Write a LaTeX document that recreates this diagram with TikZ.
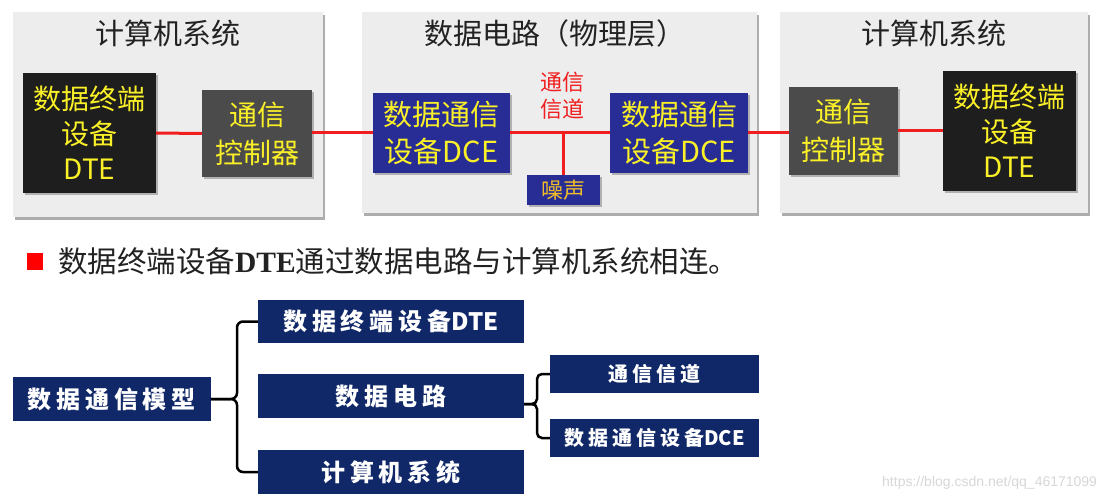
\documentclass[tikz,border=0pt]{standalone}
\usepackage{fontspec}
\usetikzlibrary{shadows,calc}
\setmainfont{Liberation Serif}
\newfontfamily\cjk{Noto Sans CJK SC}
\newfontfamily\cjkls{Noto Sans CJK SC}[LetterSpace=20]
\newfontfamily\serifb{Liberation Serif}
\newfontfamily\wmfont{Liberation Sans}
\definecolor{panel}{RGB}{237,237,237}
\definecolor{pshadow}{RGB}{165,165,165}
\definecolor{dteblk}{RGB}{30,30,30}
\definecolor{ctlgray}{RGB}{75,75,75}
\definecolor{dceblue}{RGB}{40,45,150}
\definecolor{ytxt}{RGB}{250,240,40}
\definecolor{redl}{RGB}{240,30,30}
\definecolor{navy}{RGB}{16,40,104}
\definecolor{noisey}{RGB}{240,190,40}
\definecolor{darktxt}{RGB}{34,34,34}
\definecolor{wmgray}{RGB}{215,215,215}
\begin{document}
\begin{tikzpicture}[x=1pt,y=-1pt,
  panelbox/.style={fill=panel, inner sep=0pt, draw=none,
    drop shadow={shadow xshift=1.5pt, shadow yshift=-3pt, fill=pshadow, opacity=0.9}},
  devbox/.style={inner sep=0pt, draw=none, align=center, text=ytxt,
    font=\cjk\fontsize{28}{35}\selectfont,
    drop shadow={shadow xshift=2pt, shadow yshift=-2pt, fill=black, opacity=0.25}},
  ptitle/.style={text=darktxt, font=\cjk\fontsize{29}{33}\selectfont, inner sep=0pt},
  redline/.style={draw=redl, line width=3pt},
  treebox/.style={fill=navy, inner sep=0pt, text=white, draw=none},
  treefont/.style={font=\cjkls\bfseries\fontsize{24}{28}\selectfont},
  subfont/.style={font=\cjkls\bfseries\fontsize{20}{24}\selectfont},
  brace/.style={draw=black, line width=2.5pt, rounded corners=6pt}
]
\useasboundingbox (0,0) rectangle (1100,500);
\fill[white] (0,0) rectangle (1100,500);

% panels
\node[panelbox, minimum width=310pt, minimum height=205pt] (pL) at (168,114.5) {};
\node[panelbox, minimum width=395pt, minimum height=201pt] (pM) at (559.5,112.5) {};
\node[panelbox, minimum width=308pt, minimum height=201pt] (pR) at (934,112.5) {};

\node[ptitle] (tL) at (168,33) {计算机系统};
\node[ptitle] (tM) at (555,33) {数据电路（物理层）};
\node[ptitle] (tR) at (934,33) {计算机系统};

% devices
\node[devbox, fill=dteblk, minimum width=133pt, minimum height=120pt] (dteL) at (89.5,133) {数据终端\\设备\\DTE};
\node[devbox, fill=ctlgray, minimum width=110pt, minimum height=87pt, font=\cjk\fontsize{28}{38}\selectfont] (ctlL) at (257,133.5) {通信\\控制器};
\node[devbox, fill=dceblue, minimum width=137pt, minimum height=80pt, font=\cjk\fontsize{29}{37}\selectfont] (dceL) at (441.5,133) {数据通信\\设备DCE};
\node[devbox, fill=dceblue, minimum width=138pt, minimum height=80pt, font=\cjk\fontsize{29}{37}\selectfont] (dceR) at (679,133) {数据通信\\设备DCE};
\node[devbox, fill=ctlgray, minimum width=109pt, minimum height=88pt, font=\cjk\fontsize{28}{38}\selectfont] (ctlR) at (843.5,131) {通信\\控制器};
\node[devbox, fill=dteblk, minimum width=133pt, minimum height=120pt] (dteR) at (1009.5,131) {数据终端\\设备\\DTE};
\node[devbox, fill=dceblue, minimum width=73pt, minimum height=30pt, text=noisey, font=\cjk\fontsize{22}{24}\selectfont] (noise) at (563.5,190) {\raisebox{-3pt}{噪声}};

\node[text=redl, align=center, inner sep=0pt, font=\cjk\fontsize{22}{27}\selectfont] (chan) at (562,96) {通信\\信道};

% red connectors
\draw[redline] (dteL.east) -- (ctlL.west);
\draw[redline] (ctlL.east |- dceL.west) -- (dceL.west);
\draw[redline] (dceL.east) -- (dceR.west);
\draw[redline] (dceR.east) -- (dceR.east -| ctlR.west);
\draw[redline] (ctlR.east) -- (dteR.west);
\draw[redline] (noise.north) -- (noise.north |- dceL.east);

% bullet line
\node[fill=red, minimum width=16pt, minimum height=17pt, inner sep=0pt] (sq) at (35,261.5) {};
\node[anchor=west, inner sep=0pt, text=darktxt, font=\cjk\fontsize{29.5}{33}\selectfont] (bl) at (58,261)
  {数据终端设备{\serifb\bfseries DTE}通过数据电路与计算机系统相连。};

% tree
\node[treebox, treefont, minimum width=198pt, minimum height=44pt] (root) at (111.7,399) {数据通信模型};
\node[treebox, treefont, minimum width=266pt, minimum height=43pt] (b1) at (391,321.5) {数据终端设备{\cjk\bfseries DTE}};
\node[treebox, treefont, minimum width=266pt, minimum height=44pt] (b2) at (391,396) {数据电路};
\node[treebox, treefont, minimum width=266pt, minimum height=44pt] (b3) at (391,472) {计算机系统};
\node[treebox, subfont, minimum width=209pt, minimum height=38pt] (s1) at (654.5,374) {通信信道};
\node[treebox, subfont, minimum width=209pt, minimum height=38pt] (s2) at (654.5,438) {数据通信设备{\cjk\bfseries DCE}};

\draw[brace] (b1.west) -- (237,321.5) -- (237,399) -- (root.east);
\draw[brace] (b3.west) -- (237,472) -- (237,399) -- (root.east);
\coordinate (b2tip) at ($(b2.east)+(0,8)$);
\draw[brace, rounded corners=5pt] (s1.west) -- (537,374) -- (537,404) -- (b2tip);
\draw[brace, rounded corners=5pt] (s2.west) -- (537,438) -- (537,404) -- (b2tip);

\node[text=wmgray, inner sep=0pt, anchor=west, font=\wmfont\fontsize{14}{16}\selectfont] (wm) at (882,483) {https://blog.csdn.net/qq\_46171099};
\end{tikzpicture}
\end{document}
